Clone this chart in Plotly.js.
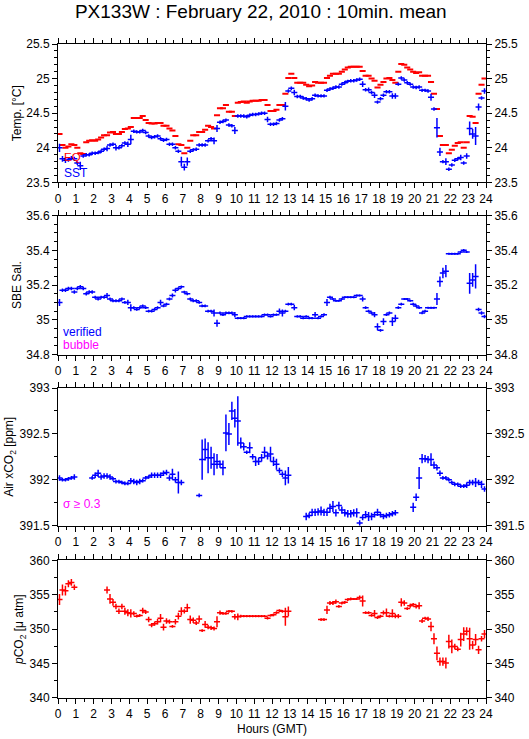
<!DOCTYPE html>
<html>
<head>
<meta charset="utf-8">
<script src="https://cdn.plot.ly/plotly-3.0.1.min.js"></script>
<style>html,body{margin:0;padding:0;background:#fff;}#chart{width:529px;height:739px;}</style>
</head>
<body>
<div id="chart"></div>
<script>
// time stamps of the 10-minute means, minutes after 00:00 GMT
var minutes = [5,15,25,35,45,55,65,75,85,95,105,115,125,135,145,155,165,175,185,195,
205,215,225,235,245,255,265,275,285,295,305,315,325,335,345,355,365,375,385,395,
405,415,425,435,445,455,465,475,485,495,505,515,525,535,545,555,565,575,585,595,
605,615,625,635,645,655,665,675,685,695,705,715,725,735,745,755,765,775,785,795,
805,815,825,835,845,855,865,875,885,895,905,915,925,935,945,955,965,975,985,995,
1005,1015,1025,1035,1045,1055,1065,1075,1085,1095,1105,1115,1125,1135,1145,1155,1165,1175,1185,1195,
1205,1215,1225,1235,1245,1255,1265,1275,1285,1295,1305,1315,1325,1335,1345,1355,1365,1375,1385,1395,
1405,1415,1425,1435];

var eqTemp = [24.20,24.04,24.00,24.02,24.05,24.04,24.00,23.92,23.91,24.08,
24.10,24.11,24.10,24.12,24.15,24.18,24.18,24.22,24.23,24.20,
24.20,24.23,24.27,24.28,24.30,24.43,24.43,24.43,24.46,24.40,
24.36,24.35,24.35,24.36,24.36,24.32,24.32,24.28,24.25,24.17,
24.05,24.04,23.92,24.00,24.10,24.18,24.18,24.23,24.23,24.26,
24.32,24.30,24.28,24.47,24.57,24.57,24.62,24.52,24.52,24.46,
24.65,24.66,24.67,24.65,24.67,24.68,24.68,24.68,24.69,24.69,
24.62,24.53,24.53,24.55,24.62,24.62,24.78,25.01,25.07,25.01,
24.94,24.94,24.94,24.91,24.89,24.90,24.95,24.94,24.94,24.94,
25.01,25.04,25.07,25.07,25.07,25.10,25.13,25.16,25.17,25.17,
25.17,25.17,25.11,25.04,25.04,25.00,24.97,24.87,24.91,24.95,
25.00,25.01,24.98,24.94,25.10,25.21,25.20,25.16,25.13,25.10,
25.08,25.09,25.04,25.04,25.04,24.95,24.78,24.56,24.17,24.04,
24.04,23.92,23.97,24.03,24.07,24.08,24.00,24.08,24.46,24.45,
24.36,24.78,24.91,25.00];

var sst = [24.00,23.84,23.82,23.83,23.85,23.84,23.78,23.74,23.88,23.90,
23.90,23.92,23.92,23.93,23.95,23.98,23.99,24.04,24.05,24.00,
24.00,24.03,24.07,24.05,24.12,24.24,24.23,24.23,24.25,24.22,
24.17,24.15,24.16,24.17,24.13,24.11,24.12,24.05,24.05,24.00,
23.95,23.80,23.72,23.80,23.95,23.97,23.98,24.04,24.04,24.04,
24.10,24.13,24.10,24.28,24.37,24.38,24.40,24.33,24.32,24.25,
24.46,24.46,24.46,24.45,24.47,24.48,24.48,24.49,24.50,24.50,
24.41,24.34,24.34,24.35,24.40,24.42,24.60,24.82,24.86,24.80,
24.74,24.74,24.72,24.71,24.69,24.71,24.76,24.75,24.75,24.75,
24.83,24.85,24.86,24.88,24.88,24.92,24.94,24.96,24.97,24.97,
24.98,24.99,24.92,24.84,24.84,24.80,24.76,24.66,24.71,24.76,
24.81,24.81,24.75,24.75,24.92,25.01,24.98,24.94,24.92,24.88,
24.87,24.88,24.83,24.83,24.82,24.73,24.56,24.29,23.94,23.80,
23.80,23.69,23.75,23.82,23.84,23.86,23.78,23.88,24.28,24.20,
24.17,24.59,24.72,24.82];

var sstErr = [0.06,0.04,0.04,0.03,0.03,0.03,0.03,0.06,0.025,0.025,
0.025,0.025,0.025,0.025,0.025,0.025,0.04,0.025,0.025,0.04,
0.025,0.025,0.025,0.04,0.07,0.025,0.025,0.025,0.025,0.025,
0.025,0.025,0.025,0.025,0.025,0.025,0.025,0.025,0.025,0.025,
0.025,0.07,0.05,0.06,0.025,0.025,0.025,0.025,0.025,0.025,
0.025,0.025,0.05,0.05,0.025,0.025,0.025,0.025,0.025,0.05,
0.025,0.025,0.025,0.025,0.025,0.025,0.025,0.025,0.025,0.025,
0.04,0.025,0.025,0.025,0.025,0.025,0.06,0.025,0.025,0.04,
0.025,0.025,0.025,0.025,0.025,0.025,0.025,0.025,0.025,0.025,
0.025,0.025,0.025,0.025,0.025,0.025,0.025,0.025,0.025,0.025,
0.025,0.025,0.04,0.025,0.03,0.025,0.04,0.025,0.025,0.025,
0.025,0.025,0.04,0.04,0.025,0.025,0.025,0.025,0.025,0.025,
0.025,0.025,0.025,0.025,0.025,0.05,0.025,0.14,0.06,0.025,
0.05,0.025,0.025,0.025,0.025,0.04,0.025,0.04,0.10,0.07,
0.13,0.05,0.025,0.04];

var sal = [35.10,35.17,35.17,35.18,35.18,35.16,35.18,35.19,35.18,35.15,
35.16,35.16,35.13,35.12,35.13,35.13,35.14,35.12,35.11,35.11,
35.11,35.12,35.10,35.10,35.07,35.07,35.06,35.07,35.08,35.07,
35.05,35.05,35.06,35.07,35.10,35.08,35.09,35.12,35.14,35.17,
35.18,35.19,35.16,35.15,35.12,35.11,35.11,35.10,35.08,35.08,
35.05,35.05,35.04,34.98,35.04,35.03,35.04,35.04,35.04,35.03,
35.01,35.01,35.01,35.02,35.02,35.02,35.02,35.02,35.02,35.03,
35.03,35.02,35.03,35.03,35.05,35.04,35.05,35.09,35.09,35.07,
35.02,35.02,35.01,35.02,35.01,35.01,35.03,35.01,35.02,35.03,
35.10,35.13,35.12,35.11,35.11,35.12,35.13,35.13,35.13,35.13,
35.14,35.14,35.12,35.07,35.05,35.04,35.03,34.96,34.94,34.99,
35.03,35.04,34.99,35.01,35.07,35.09,35.12,35.12,35.11,35.09,
35.08,35.07,35.04,35.05,35.07,35.07,35.07,35.12,35.22,35.27,
35.28,35.38,35.38,35.38,35.38,35.39,35.40,35.39,35.21,35.23,
35.25,35.06,35.04,35.02];

var salErr = [0.02,0.01,0.01,0.01,0.01,0.01,0.01,0.01,0.01,0.01,
0.01,0.01,0.008,0.008,0.008,0.008,0.015,0.008,0.008,0.008,
0.008,0.008,0.008,0.015,0.02,0.008,0.008,0.008,0.008,0.008,
0.008,0.008,0.008,0.008,0.015,0.008,0.008,0.008,0.012,0.012,
0.008,0.008,0.008,0.008,0.008,0.008,0.008,0.008,0.008,0.008,
0.008,0.008,0.02,0.02,0.008,0.008,0.008,0.008,0.008,0.015,
0.006,0.006,0.006,0.006,0.006,0.006,0.006,0.006,0.006,0.006,
0.006,0.006,0.006,0.006,0.015,0.02,0.008,0.008,0.008,0.015,
0.006,0.006,0.006,0.006,0.006,0.006,0.015,0.006,0.006,0.008,
0.02,0.008,0.006,0.006,0.006,0.006,0.006,0.006,0.006,0.006,
0.006,0.006,0.015,0.008,0.008,0.008,0.015,0.02,0.008,0.02,
0.008,0.008,0.025,0.02,0.008,0.008,0.006,0.006,0.006,0.008,
0.008,0.008,0.008,0.008,0.006,0.006,0.006,0.035,0.03,0.03,
0.035,0.006,0.006,0.006,0.006,0.006,0.008,0.006,0.06,0.04,
0.07,0.01,0.01,0.01];

var airCO2 = [392.02,392.00,392.00,392.01,392.02,392.03,null,null,null,null,
null,392.02,392.05,392.07,392.03,392.04,392.04,392.03,392.01,391.98,
391.98,391.97,391.96,391.96,391.99,391.98,391.97,391.98,391.99,392.02,
392.03,392.05,392.05,392.05,392.05,392.07,392.08,392.02,392.06,392.00,
391.97,391.97,null,null,null,null,null,391.83,392.22,392.33,
392.24,392.24,392.17,392.20,392.17,392.13,392.51,392.50,392.75,392.67,
392.64,392.40,392.36,392.30,392.35,392.25,392.20,392.20,392.24,392.30,
392.26,392.28,392.20,392.17,392.10,392.06,392.02,392.05,null,null,
null,null,null,391.60,391.61,391.645,391.645,391.65,391.66,391.645,
391.645,391.69,391.71,391.64,391.72,391.67,391.64,391.63,391.63,391.64,
391.64,391.53,391.59,391.62,391.60,391.60,391.62,391.645,391.62,391.60,
391.61,391.62,391.63,391.64,null,null,null,null,null,391.70,
391.81,392.02,392.23,392.23,392.22,392.22,392.16,392.13,392.07,392.02,
392.02,392.00,391.97,391.95,391.95,391.93,391.93,391.94,391.97,391.97,
391.97,391.97,391.95,391.90];

var airErr = [0.03,0.02,0.02,0.02,0.02,0.03,0,0,0,0,
0,0.02,0.03,0.04,0.03,0.03,0.03,0.03,0.02,0.02,
0.02,0.02,0.02,0.02,0.03,0.03,0.03,0.03,0.02,0.02,
0.02,0.03,0.03,0.03,0.03,0.03,0.03,0.03,0.06,0.03,
0.12,0.03,0,0,0,0,0,0.02,0.22,0.12,
0.17,0.12,0.12,0.08,0.04,0.08,0.20,0.12,0.10,0.10,
0.27,0.06,0.04,0.02,0.06,0.03,0.05,0.04,0.04,0.06,
0.04,0.08,0.05,0.06,0.03,0.03,0.08,0.09,0,0,
0,0,0,0.04,0.03,0.04,0.04,0.04,0.05,0.04,
0.04,0.05,0.06,0.04,0.04,0.04,0.04,0.04,0.04,0.04,
0.05,0.03,0.03,0.04,0.05,0.04,0.03,0.04,0.03,0.03,
0.03,0.03,0.03,0.03,0,0,0,0,0,0.05,
0.04,0.12,0.05,0.04,0.04,0.07,0.04,0.03,0.03,0.02,
0.02,0.02,0.02,0.02,0.02,0.02,0.02,0.03,0.03,0.03,
0.05,0.03,0.04,0.03];

var pco2 = [354.3,355.7,355.6,356.6,356.8,356.1,null,null,null,null,
null,null,null,null,null,null,355.7,354.4,353.9,353.3,
352.6,353.3,352.6,352.4,352.3,352.3,351.9,352.0,352.7,352.5,
351.4,350.6,350.8,351.1,351.6,350.3,351.2,351.1,350.4,351.1,
351.9,352.6,352.6,353.1,351.4,351.3,350.9,351.5,349.8,350.7,
350.3,350.2,350.1,351.1,352.4,352.3,352.3,352.6,352.6,351.8,
351.8,351.9,351.9,351.9,351.9,351.9,351.9,351.9,351.9,351.9,
351.6,352.0,352.1,352.4,352.7,352.6,351.8,352.6,null,null,
null,null,null,null,null,null,null,null,351.4,351.4,
352.8,353.8,353.8,354.0,353.3,353.8,353.9,354.3,354.4,354.4,
354.4,354.6,354.1,352.4,352.4,352.0,352.3,351.7,351.9,352.4,
352.4,351.9,352.3,351.9,351.9,353.9,353.8,353.0,353.4,353.6,
353.3,353.4,351.2,351.6,351.5,350.4,348.6,346.5,345.3,345.3,
345.1,348.2,347.5,347.5,347.1,348.5,349.3,349.7,348.6,347.7,
348.5,347.0,348.6,349.3];

var pco2Err = [0.8,0.8,0.7,0.5,0.5,0.4,0,0,0,0,
0,0,0,0,0,0,0.5,0.7,0.5,0.4,
0.4,0.4,0.5,0.5,0.6,0.3,0.2,0.2,0.4,0.3,
0.4,0.3,0.3,0.4,0.6,0.5,0.4,0.3,0.2,0.4,
0.5,0.6,0.3,0.6,0.6,0.4,0.3,0.5,0.2,0.5,
0.3,0.3,0.3,0.8,0.3,0.2,0.2,0.2,0.2,0.4,
0.5,0.2,0.15,0.15,0.15,0.15,0.15,0.15,0.15,0.15,
0.2,0.15,0.2,0.2,0.2,0.2,1.3,0.7,0,0,
0,0,0,0,0,0,0,0,0.2,0.2,
0.6,0.3,0.3,0.3,0.2,0.2,0.2,0.2,0.2,0.15,
0.15,0.3,0.8,0.2,0.2,0.2,0.5,0.2,0.2,0.3,
0.6,0.2,0.6,0.3,0.3,0.6,0.4,0.2,0.3,0.2,
0.3,0.5,0.3,0.2,0.3,0.7,0.8,1.0,0.6,0.6,
0.8,1.0,1.0,0.4,0.3,1.0,1.0,0.6,1.6,0.6,
0.8,0.6,0.4,0.6];

var hourTicks = [0,1,2,3,4,5,6,7,8,9,10,11,12,13,14,15,16,17,18,19,20,21,22,23,24];

var hours = minutes.map(function(m){ return m/60; });
var BLUE = '#0000ff', RED = '#ff0000', MAG = '#ff00ff';
var FONT = 'Liberation Sans, Arial, Helvetica, sans-serif';

function barTrace(y, err, color, xa, ya, thick) {
  var t = {
    type: 'scatter', mode: 'markers', x: hours, y: y, xaxis: xa, yaxis: ya,
    marker: {size: 1, color: 'rgba(0,0,0,0)'},
    error_x: {type: 'constant', value: 0.17, width: 0, thickness: thick, color: color},
    hoverinfo: 'skip', cliponaxis: true
  };
  if (err) t.error_y = {type: 'data', array: err, visible: true, width: 0, thickness: thick, color: color};
  return t;
}

var traces = [
  barTrace(eqTemp, null, RED, 'x', 'y', 2),
  barTrace(sst, sstErr, BLUE, 'x', 'y', 1.5),
  barTrace(sal, salErr, BLUE, 'x2', 'y2', 1.5),
  barTrace(airCO2, airErr, BLUE, 'x3', 'y3', 1.5),
  barTrace(pco2, pco2Err, RED, 'x4', 'y4', 1.5),
  {type:'scatter', x:[], y:[], xaxis:'x', yaxis:'y5', hoverinfo:'skip'},
  {type:'scatter', x:[], y:[], xaxis:'x2', yaxis:'y6', hoverinfo:'skip'},
  {type:'scatter', x:[], y:[], xaxis:'x3', yaxis:'y7', hoverinfo:'skip'},
  {type:'scatter', x:[], y:[], xaxis:'x4', yaxis:'y8', hoverinfo:'skip'}
];

function xAxis(anchor, title) {
  var a = {
    anchor: anchor, range: [0, 24], tickmode: 'array', tickvals: hourTicks,
    ticktext: hourTicks.map(String),
    ticks: 'outside', ticklen: 5, tickwidth: 1, tickcolor: '#000',
    showline: true, linecolor: '#000', linewidth: 1, mirror: 'ticks',
    showgrid: false, zeroline: false, fixedrange: true,
    minor: {dtick: 0.5, tick0: 0, ticks: 'outside', ticklen: 3, tickwidth: 1, tickcolor: '#000', showgrid: false},
    tickfont: {size: 12, family: FONT, color: '#000'}
  };
  if (title) a.title = {text: title, font: {size: 12, family: FONT}, standoff: 4};
  return a;
}
function yAxis(anchor, domain, range, dtick, minor, title, side, over) {
  var a = {
    anchor: anchor, range: range, dtick: dtick, tick0: range[0],
    ticks: 'outside', ticklen: 5, tickwidth: 1, tickcolor: '#000',
    showline: true, linecolor: '#000', linewidth: 1, mirror: false,
    showgrid: false, zeroline: false, fixedrange: true, side: side,
    minor: {dtick: minor, ticks: 'outside', ticklen: 3, tickwidth: 1, tickcolor: '#000', showgrid: false},
    tickfont: {size: 12, family: FONT, color: '#000'}
  };
  if (over) { a.overlaying = over; } else { a.domain = domain; }
  if (title) a.title = {text: title, font: {size: 12, family: FONT}};
  return a;
}

var d1 = [0.7884, 1.0], d2 = [0.525, 0.7377], d3 = [0.2635, 0.474], d4 = [0, 0.2104];
var r1 = [23.5, 25.5], r2 = [34.8, 35.6], r3 = [391.5, 393], r4 = [340, 360];

var layout = {
  width: 529, height: 739,
  margin: {l: 58, r: 43, t: 44, b: 41, pad: 0},
  paper_bgcolor: '#fff', plot_bgcolor: '#fff',
  showlegend: false,
  font: {family: FONT, size: 12, color: '#000'},
  title: {text: 'PX133W : February 22, 2010 : 10min. mean', x: 0.493, xref: 'container', xanchor: 'center',
          y: 1 - 11/739, yref: 'container', yanchor: 'middle', font: {size: 19, family: FONT, color: '#000'}},
  xaxis: xAxis('y'),
  xaxis2: xAxis('y2'),
  xaxis3: xAxis('y3'),
  xaxis4: xAxis('y4', 'Hours (GMT)'),
  yaxis: yAxis('x', d1, r1, 0.5, 0.1, 'Temp. [°C]', 'left'),
  yaxis2: yAxis('x2', d2, r2, 0.2, 0.05, 'SBE Sal.', 'left'),
  yaxis3: yAxis('x3', d3, r3, 0.5, 0.25, 'Air xCO<sub>2</sub> [ppm]', 'left'),
  yaxis4: yAxis('x4', d4, r4, 5, 2.5, '<i>p</i>CO<sub>2</sub> [μ atm]', 'left'),
  yaxis5: yAxis('x', d1, r1, 0.5, 0.1, null, 'right', 'y'),
  yaxis6: yAxis('x2', d2, r2, 0.2, 0.05, null, 'right', 'y2'),
  yaxis7: yAxis('x3', d3, r3, 0.5, 0.25, null, 'right', 'y3'),
  yaxis8: yAxis('x4', d4, r4, 5, 2.5, null, 'right', 'y4'),
  annotations: [
    {xref: 'paper', yref: 'y domain', x: 0.009, y: 0.182, xanchor: 'left', yanchor: 'middle', text: 'EQ', showarrow: false, font: {color: RED, size: 11.5, family: FONT}},
    {xref: 'paper', yref: 'y domain', x: 0.009, y: 0.068, xanchor: 'left', yanchor: 'middle', text: 'SST', showarrow: false, font: {color: BLUE, size: 12, family: FONT}},
    {xref: 'paper', yref: 'y2 domain', x: 0.007, y: 0.165, xanchor: 'left', yanchor: 'middle', text: 'verified', showarrow: false, font: {color: BLUE, size: 12, family: FONT}},
    {xref: 'paper', yref: 'y2 domain', x: 0.007, y: 0.072, xanchor: 'left', yanchor: 'middle', text: 'bubble', showarrow: false, font: {color: MAG, size: 12, family: FONT}},
    {xref: 'paper', yref: 'y3 domain', x: 0.007, y: 0.16, xanchor: 'left', yanchor: 'middle', text: 'σ ≥ 0.3', showarrow: false, font: {color: MAG, size: 12, family: FONT}}
  ]
};

Plotly.newPlot('chart', traces, layout, {displayModeBar: false, staticPlot: true});
</script>
</body>
</html>
